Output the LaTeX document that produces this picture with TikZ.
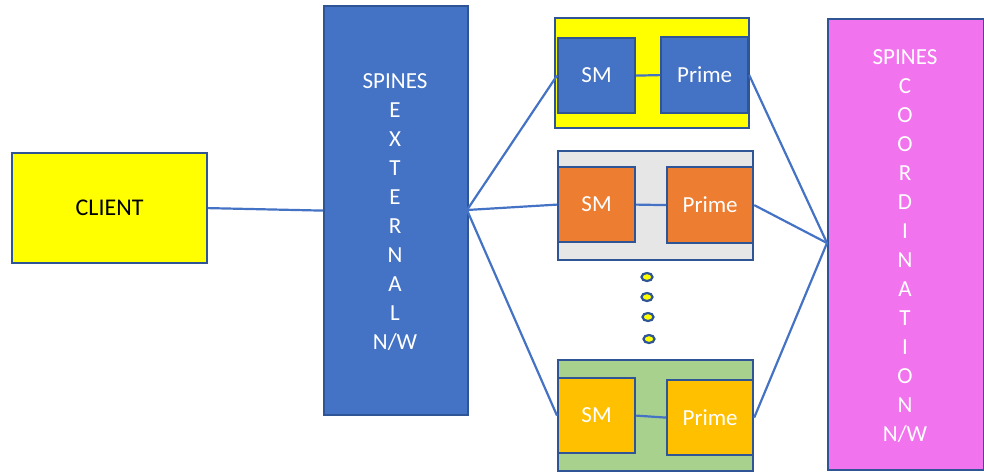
\documentclass[tikz,border=0pt]{standalone}
\usepackage{fontspec}
\setmainfont{Carlito}
\definecolor{edge}{HTML}{2F5597}
\definecolor{wire}{HTML}{4472C4}
\definecolor{blueF}{HTML}{4472C4}
\definecolor{pinkF}{HTML}{F273EE}
\definecolor{grayF}{HTML}{E7E6E6}
\definecolor{greenF}{HTML}{A9D18E}
\definecolor{orangeF}{HTML}{ED7D31}
\definecolor{goldF}{HTML}{FFC000}
\definecolor{yellowF}{HTML}{FFFF00}
\tikzset{
  box/.style={draw=edge, line width=2.2pt, inner sep=0pt, anchor=north west},
  wirel/.style={draw=wire, line width=2.2pt},
  lbl/.style={text=white, font=\fontsize{23}{29}\selectfont, align=center, inner sep=0pt},
  dotn/.style={ellipse, draw=edge, line width=2.2pt, fill=yellowF, minimum width=11pt, minimum height=8pt, inner sep=0pt}
}
\usetikzlibrary{shapes.geometric}
\begin{document}
\begin{tikzpicture}[x=1pt,y=-1pt]
\useasboundingbox (0,0) rectangle (984,472);
% client
\node[box, fill=yellowF, minimum width=195pt, minimum height=110pt] (client) at (11,152) {};
\node[font=\fontsize{24}{28}\selectfont, inner sep=0pt] (clientT) at (client.center) {CLIENT};
% external
\node[box, fill=blueF, minimum width=144pt, minimum height=409pt] (ext) at (323,5) {};
\node[lbl] (extT) at (395,212) {SPINES\\E\\X\\T\\E\\R\\N\\A\\L\\N/W};
% coordination
\node[box, fill=pinkF, minimum width=156pt, minimum height=451pt] (coord) at (827,18) {};
\node[lbl] (coordT) at (905,246) {SPINES\\C\\O\\O\\R\\D\\I\\N\\A\\T\\I\\O\\N\\N/W};
% group 1
\node[box, fill=yellowF, minimum width=194pt, minimum height=110pt] (g1) at (554,17) {};
\node[box, fill=blueF, minimum width=77pt, minimum height=75pt] (sm1) at (557,37) {};
\node[box, fill=blueF, minimum width=87pt, minimum height=76pt] (pr1) at (660,36) {};
% group 2
\node[box, fill=grayF, minimum width=195pt, minimum height=109pt] (g2) at (557,150) {};
\node[box, fill=orangeF, minimum width=77pt, minimum height=75pt] (sm2) at (557,166) {};
\node[box, fill=orangeF, minimum width=86pt, minimum height=76pt] (pr2) at (666,166) {};
% group 3
\node[box, fill=greenF, minimum width=195pt, minimum height=111pt] (g3) at (557,359) {};
\node[box, fill=goldF, minimum width=77pt, minimum height=75pt] (sm3) at (557,377) {};
\node[box, fill=goldF, minimum width=86pt, minimum height=75pt] (pr3) at (666,379) {};
% labels
\foreach \n/\t in {sm1/SM,pr1/Prime,sm2/SM,pr2/Prime,sm3/SM,pr3/Prime}
  \node[lbl] (\n T) at (\n.center) {\t};
% dots
\node[dotn] (d1) at (647,277) {};
\node[dotn] (d2) at (647,297) {};
\node[dotn] (d3) at (648,317) {};
\node[dotn] (d4) at (649,339) {};
% connectors
\draw[wirel] (client.east) -- (ext.west);
\draw[wirel] (sm1.east) -- (pr1.west);
\draw[wirel] (sm2.east) -- (pr2.west);
\draw[wirel] (sm3.east) -- (pr3.west);
\coordinate (extP) at (467,210);
\coordinate (coordP) at (827,243);
\draw[wirel] (extP) -- (sm1.west);
\draw[wirel] (extP) -- (sm2.west);
\draw[wirel] (extP) -- (sm3.west);
\draw[wirel] (pr1.east) -- (coordP);
\draw[wirel] (pr2.east) -- (coordP);
\draw[wirel] (pr3.east) -- (coordP);
\end{tikzpicture}
\end{document}
